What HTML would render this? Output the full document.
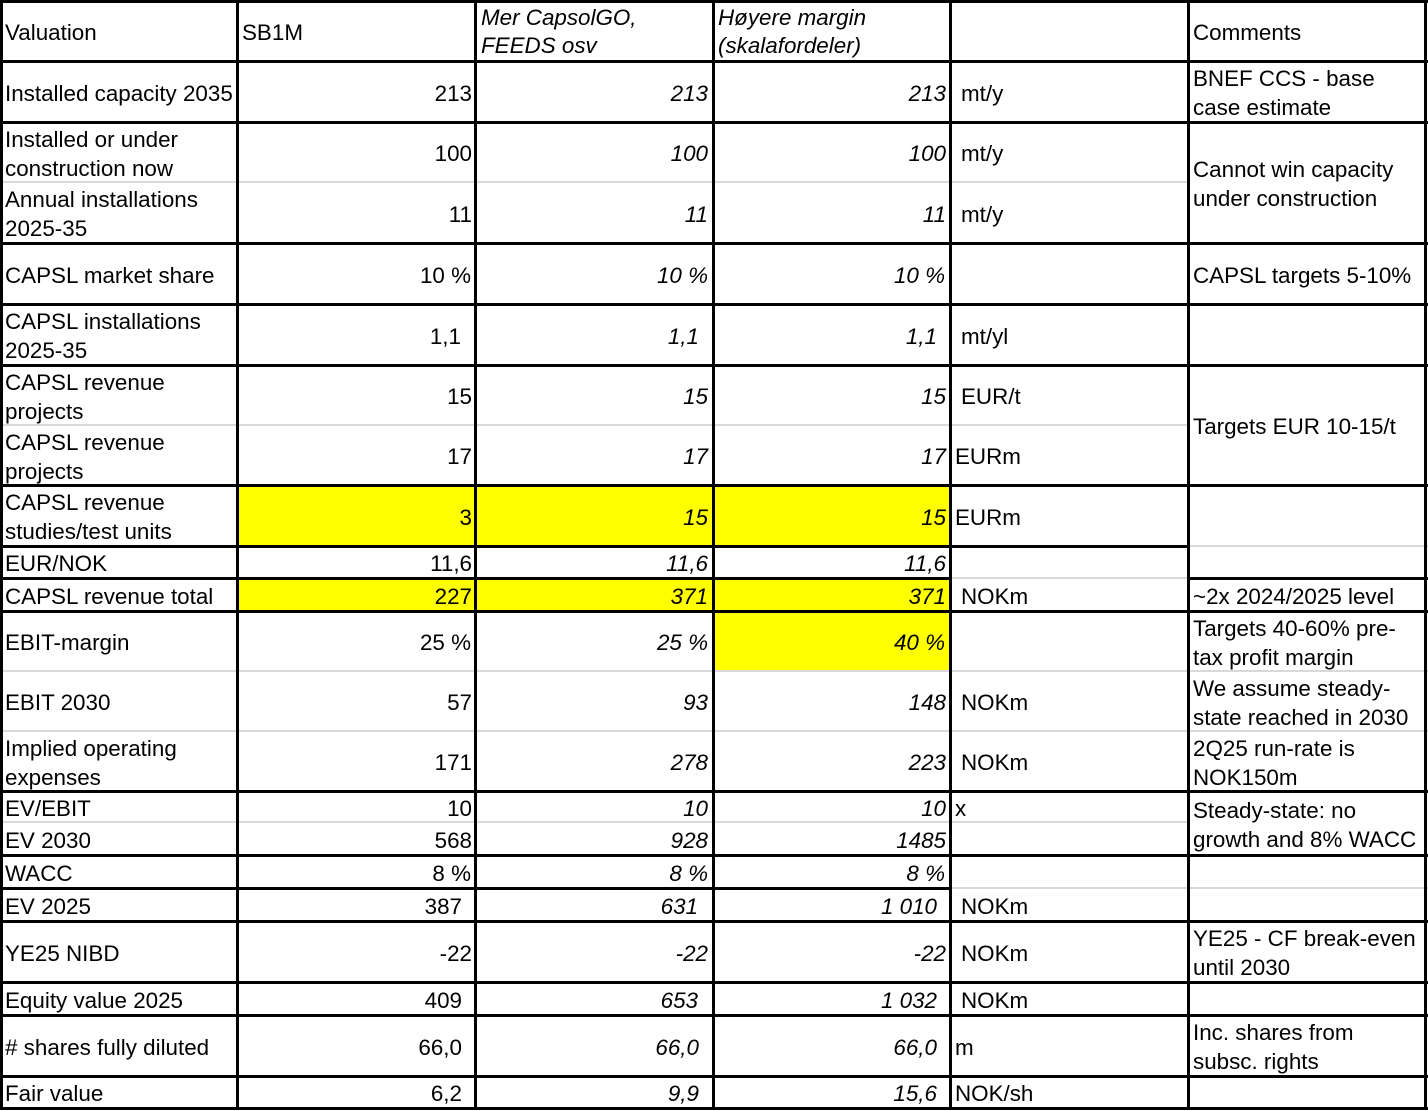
<!DOCTYPE html>
<html><head><meta charset="utf-8"><style>
html,body{margin:0;padding:0;background:#fff;}
#w{position:relative;width:1428px;height:1111px;overflow:hidden;font-family:"Liberation Sans",Arial,sans-serif;font-size:22.4px;color:#000;}
.c{position:absolute;display:flex;align-items:center;white-space:pre;line-height:29px;box-sizing:border-box;padding-top:3px;}
.r{justify-content:flex-end;}
.i{font-style:italic;}
.y{position:absolute;background:#ffff00;}
.h{position:absolute;height:3px;background:#000;}
.t{position:absolute;height:2px;background:#d9d9d9;}
.v{position:absolute;width:3px;background:#000;top:0;height:1109px;}
</style></head><body><div id="w">
<div class="y" style="left:237px;top:485px;width:713px;height:61px"></div>
<div class="y" style="left:237px;top:578px;width:713px;height:33px"></div>
<div class="y" style="left:713px;top:611px;width:237px;height:60px"></div>

<div class="c" style="left:5px;top:0;height:61px">Valuation</div>
<div class="c" style="left:242px;top:0;height:61px">SB1M</div>
<div class="c i" style="left:481px;top:0;height:61px;line-height:28px">Mer CapsolGO,
FEEDS osv</div>
<div class="c i" style="left:718px;top:0;height:61px;line-height:28px">Høyere margin
(skalafordeler)</div>
<div class="c" style="left:1193px;top:0;height:61px">Comments</div>

<div class="c" style="left:5px;top:61px;height:61px">Installed capacity 2035</div>
<div class="c" style="left:5px;top:122px;height:60px">Installed or under
construction now</div>
<div class="c" style="left:5px;top:182px;height:61px">Annual installations
2025-35</div>
<div class="c" style="left:5px;top:243px;height:61px">CAPSL market share</div>
<div class="c" style="left:5px;top:304px;height:61px">CAPSL installations
2025-35</div>
<div class="c" style="left:5px;top:365px;height:60px">CAPSL revenue
projects</div>
<div class="c" style="left:5px;top:425px;height:60px">CAPSL revenue
projects</div>
<div class="c" style="left:5px;top:485px;height:61px">CAPSL revenue
studies/test units</div>
<div class="c" style="left:5px;top:546px;height:32px">EUR/NOK</div>
<div class="c" style="left:5px;top:578px;height:33px">CAPSL revenue total</div>
<div class="c" style="left:5px;top:611px;height:60px">EBIT-margin</div>
<div class="c" style="left:5px;top:671px;height:60px">EBIT 2030</div>
<div class="c" style="left:5px;top:731px;height:60px">Implied operating
expenses</div>
<div class="c" style="left:5px;top:791px;height:31px">EV/EBIT</div>
<div class="c" style="left:5px;top:822px;height:33px">EV 2030</div>
<div class="c" style="left:5px;top:855px;height:33px">WACC</div>
<div class="c" style="left:5px;top:888px;height:33px">EV 2025</div>
<div class="c" style="left:5px;top:921px;height:61px">YE25 NIBD</div>
<div class="c" style="left:5px;top:982px;height:33px">Equity value 2025</div>
<div class="c" style="left:5px;top:1015px;height:61px"># shares fully diluted</div>
<div class="c" style="left:5px;top:1076px;height:32px">Fair value</div>

<div class="c r" style="left:239px;width:236px;top:61px;height:61px;padding-right:3px">213</div>
<div class="c r" style="left:239px;width:236px;top:122px;height:60px;padding-right:3px">100</div>
<div class="c r" style="left:239px;width:236px;top:182px;height:61px;padding-right:3px">11</div>
<div class="c r" style="left:239px;width:236px;top:243px;height:61px;padding-right:4px">10 %</div>
<div class="c r" style="left:239px;width:236px;top:304px;height:61px;padding-right:14px">1,1</div>
<div class="c r" style="left:239px;width:236px;top:365px;height:60px;padding-right:3px">15</div>
<div class="c r" style="left:239px;width:236px;top:425px;height:60px;padding-right:3px">17</div>
<div class="c r" style="left:239px;width:236px;top:485px;height:61px;padding-right:3px">3</div>
<div class="c r" style="left:239px;width:236px;top:546px;height:32px;padding-right:3px">11,6</div>
<div class="c r" style="left:239px;width:236px;top:578px;height:33px;padding-right:3px">227</div>
<div class="c r" style="left:239px;width:236px;top:611px;height:60px;padding-right:4px">25 %</div>
<div class="c r" style="left:239px;width:236px;top:671px;height:60px;padding-right:3px">57</div>
<div class="c r" style="left:239px;width:236px;top:731px;height:60px;padding-right:3px">171</div>
<div class="c r" style="left:239px;width:236px;top:791px;height:31px;padding-right:3px">10</div>
<div class="c r" style="left:239px;width:236px;top:822px;height:33px;padding-right:3px">568</div>
<div class="c r" style="left:239px;width:236px;top:855px;height:33px;padding-right:4px">8 %</div>
<div class="c r" style="left:239px;width:236px;top:888px;height:33px;padding-right:13px">387</div>
<div class="c r" style="left:239px;width:236px;top:921px;height:61px;padding-right:3px">-22</div>
<div class="c r" style="left:239px;width:236px;top:982px;height:33px;padding-right:13px">409</div>
<div class="c r" style="left:239px;width:236px;top:1015px;height:61px;padding-right:13px">66,0</div>
<div class="c r" style="left:239px;width:236px;top:1076px;height:32px;padding-right:13px">6,2</div>

<div class="c r i" style="left:477px;width:236px;top:61px;height:61px;padding-right:5px">213</div>
<div class="c r i" style="left:477px;width:236px;top:122px;height:60px;padding-right:5px">100</div>
<div class="c r i" style="left:477px;width:236px;top:182px;height:61px;padding-right:5px">11</div>
<div class="c r i" style="left:477px;width:236px;top:243px;height:61px;padding-right:5px">10 %</div>
<div class="c r i" style="left:477px;width:236px;top:304px;height:61px;padding-right:14px">1,1</div>
<div class="c r i" style="left:477px;width:236px;top:365px;height:60px;padding-right:5px">15</div>
<div class="c r i" style="left:477px;width:236px;top:425px;height:60px;padding-right:5px">17</div>
<div class="c r i" style="left:477px;width:236px;top:485px;height:61px;padding-right:5px">15</div>
<div class="c r i" style="left:477px;width:236px;top:546px;height:32px;padding-right:5px">11,6</div>
<div class="c r i" style="left:477px;width:236px;top:578px;height:33px;padding-right:5px">371</div>
<div class="c r i" style="left:477px;width:236px;top:611px;height:60px;padding-right:5px">25 %</div>
<div class="c r i" style="left:477px;width:236px;top:671px;height:60px;padding-right:5px">93</div>
<div class="c r i" style="left:477px;width:236px;top:731px;height:60px;padding-right:5px">278</div>
<div class="c r i" style="left:477px;width:236px;top:791px;height:31px;padding-right:5px">10</div>
<div class="c r i" style="left:477px;width:236px;top:822px;height:33px;padding-right:5px">928</div>
<div class="c r i" style="left:477px;width:236px;top:855px;height:33px;padding-right:5px">8 %</div>
<div class="c r i" style="left:477px;width:236px;top:888px;height:33px;padding-right:15px">631</div>
<div class="c r i" style="left:477px;width:236px;top:921px;height:61px;padding-right:5px">-22</div>
<div class="c r i" style="left:477px;width:236px;top:982px;height:33px;padding-right:15px">653</div>
<div class="c r i" style="left:477px;width:236px;top:1015px;height:61px;padding-right:14px">66,0</div>
<div class="c r i" style="left:477px;width:236px;top:1076px;height:32px;padding-right:14px">9,9</div>

<div class="c r i" style="left:715px;width:235px;top:61px;height:61px;padding-right:4px">213</div>
<div class="c r i" style="left:715px;width:235px;top:122px;height:60px;padding-right:4px">100</div>
<div class="c r i" style="left:715px;width:235px;top:182px;height:61px;padding-right:4px">11</div>
<div class="c r i" style="left:715px;width:235px;top:243px;height:61px;padding-right:5px">10 %</div>
<div class="c r i" style="left:715px;width:235px;top:304px;height:61px;padding-right:13px">1,1</div>
<div class="c r i" style="left:715px;width:235px;top:365px;height:60px;padding-right:4px">15</div>
<div class="c r i" style="left:715px;width:235px;top:425px;height:60px;padding-right:4px">17</div>
<div class="c r i" style="left:715px;width:235px;top:485px;height:61px;padding-right:4px">15</div>
<div class="c r i" style="left:715px;width:235px;top:546px;height:32px;padding-right:4px">11,6</div>
<div class="c r i" style="left:715px;width:235px;top:578px;height:33px;padding-right:4px">371</div>
<div class="c r i" style="left:715px;width:235px;top:611px;height:60px;padding-right:5px">40 %</div>
<div class="c r i" style="left:715px;width:235px;top:671px;height:60px;padding-right:4px">148</div>
<div class="c r i" style="left:715px;width:235px;top:731px;height:60px;padding-right:4px">223</div>
<div class="c r i" style="left:715px;width:235px;top:791px;height:31px;padding-right:4px">10</div>
<div class="c r i" style="left:715px;width:235px;top:822px;height:33px;padding-right:4px">1485</div>
<div class="c r i" style="left:715px;width:235px;top:855px;height:33px;padding-right:5px">8 %</div>
<div class="c r i" style="left:715px;width:235px;top:888px;height:33px;padding-right:13px">1 010</div>
<div class="c r i" style="left:715px;width:235px;top:921px;height:61px;padding-right:4px">-22</div>
<div class="c r i" style="left:715px;width:235px;top:982px;height:33px;padding-right:13px">1 032</div>
<div class="c r i" style="left:715px;width:235px;top:1015px;height:61px;padding-right:13px">66,0</div>
<div class="c r i" style="left:715px;width:235px;top:1076px;height:32px;padding-right:13px">15,6</div>

<div class="c" style="left:961px;top:61px;height:61px">mt/y</div>
<div class="c" style="left:961px;top:122px;height:60px">mt/y</div>
<div class="c" style="left:961px;top:182px;height:61px">mt/y</div>
<div class="c" style="left:961px;top:304px;height:61px">mt/yl</div>
<div class="c" style="left:961px;top:365px;height:60px">EUR/t</div>
<div class="c" style="left:955px;top:425px;height:60px">EURm</div>
<div class="c" style="left:955px;top:485px;height:61px">EURm</div>
<div class="c" style="left:961px;top:578px;height:33px">NOKm</div>
<div class="c" style="left:961px;top:671px;height:60px">NOKm</div>
<div class="c" style="left:961px;top:731px;height:60px">NOKm</div>
<div class="c" style="left:955px;top:791px;height:31px">x</div>
<div class="c" style="left:961px;top:888px;height:33px">NOKm</div>
<div class="c" style="left:961px;top:921px;height:61px">NOKm</div>
<div class="c" style="left:961px;top:982px;height:33px">NOKm</div>
<div class="c" style="left:955px;top:1015px;height:61px">m</div>
<div class="c" style="left:955px;top:1076px;height:32px">NOK/sh</div>

<div class="c" style="left:1193px;top:61px;height:61px">BNEF CCS - base
case estimate</div>
<div class="c" style="left:1193px;top:122px;height:121px">Cannot win capacity
under construction</div>
<div class="c" style="left:1193px;top:243px;height:61px">CAPSL targets 5-10%</div>
<div class="c" style="left:1193px;top:365px;height:120px">Targets EUR 10-15/t</div>
<div class="c" style="left:1193px;top:578px;height:33px">~2x 2024/2025 level</div>
<div class="c" style="left:1193px;top:611px;height:60px">Targets 40-60% pre-
tax profit margin</div>
<div class="c" style="left:1193px;top:671px;height:60px">We assume steady-
state reached in 2030</div>
<div class="c" style="left:1193px;top:731px;height:60px">2Q25 run-rate is
NOK150m</div>
<div class="c" style="left:1193px;top:791px;height:64px">Steady-state: no
growth and 8% WACC</div>
<div class="c" style="left:1193px;top:921px;height:61px">YE25 - CF break-even
until 2030</div>
<div class="c" style="left:1193px;top:1015px;height:61px">Inc. shares from
subsc. rights</div>

<div class="t" style="left:0;width:1188px;top:181px"></div>
<div class="t" style="left:0;width:1188px;top:424px"></div>
<div class="t" style="left:1188px;width:240px;top:545px"></div>
<div class="t" style="left:950px;width:238px;top:577px"></div>
<div class="t" style="left:0;width:1428px;top:670px"></div>
<div class="t" style="left:0;width:1428px;top:730px"></div>
<div class="t" style="left:0;width:1188px;top:821px"></div>
<div class="t" style="left:950px;width:478px;top:887px"></div>

<div class="h" style="left:0;width:1428px;top:0"></div>
<div class="h" style="left:0;width:1428px;top:60px"></div>
<div class="h" style="left:0;width:1428px;top:121px"></div>
<div class="h" style="left:0;width:1428px;top:242px"></div>
<div class="h" style="left:0;width:1428px;top:303px"></div>
<div class="h" style="left:0;width:1428px;top:364px"></div>
<div class="h" style="left:0;width:1428px;top:484px"></div>
<div class="h" style="left:0;width:1188px;top:545px"></div>
<div class="h" style="left:0;width:950px;top:577px"></div>
<div class="h" style="left:1188px;width:240px;top:577px"></div>
<div class="h" style="left:0;width:1428px;top:610px"></div>
<div class="h" style="left:0;width:1428px;top:790px"></div>
<div class="h" style="left:0;width:1428px;top:854px"></div>
<div class="h" style="left:0;width:950px;top:887px"></div>
<div class="h" style="left:0;width:1428px;top:920px"></div>
<div class="h" style="left:0;width:1428px;top:981px"></div>
<div class="h" style="left:0;width:1428px;top:1014px"></div>
<div class="h" style="left:0;width:1428px;top:1075px"></div>
<div class="h" style="left:0;width:1428px;top:1107px"></div>

<div class="v" style="left:0"></div>
<div class="v" style="left:236px"></div>
<div class="v" style="left:474px"></div>
<div class="v" style="left:712px"></div>
<div class="v" style="left:949px"></div>
<div class="v" style="left:1187px"></div>
<div class="v" style="left:1424px"></div>
</div></body></html>
